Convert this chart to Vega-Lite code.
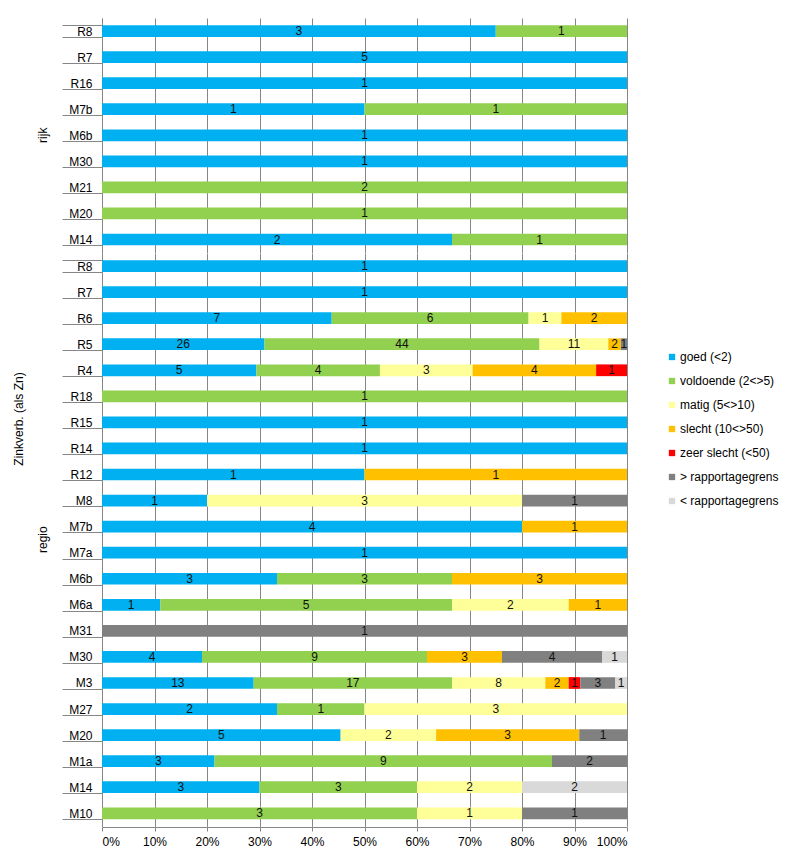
{
  "$schema": "https://vega.github.io/schema/vega-lite/v6.json",
  "background": "white",
  "autosize": {"type": "pad"},
  "padding": {"left": 12, "top": 12, "right": 0, "bottom": 10},
  "bounds": "flush",
  "data": {"values": [
    {"groep": "rijk", "locatie": "R8", "klasse": "goed (<2)", "aantal": 3},
    {"groep": "rijk", "locatie": "R8", "klasse": "voldoende (2<>5)", "aantal": 1},
    {"groep": "rijk", "locatie": "R7", "klasse": "goed (<2)", "aantal": 5},
    {"groep": "rijk", "locatie": "R16", "klasse": "goed (<2)", "aantal": 1},
    {"groep": "rijk", "locatie": "M7b", "klasse": "goed (<2)", "aantal": 1},
    {"groep": "rijk", "locatie": "M7b", "klasse": "voldoende (2<>5)", "aantal": 1},
    {"groep": "rijk", "locatie": "M6b", "klasse": "goed (<2)", "aantal": 1},
    {"groep": "rijk", "locatie": "M30", "klasse": "goed (<2)", "aantal": 1},
    {"groep": "rijk", "locatie": "M21", "klasse": "voldoende (2<>5)", "aantal": 2},
    {"groep": "rijk", "locatie": "M20", "klasse": "voldoende (2<>5)", "aantal": 1},
    {"groep": "rijk", "locatie": "M14", "klasse": "goed (<2)", "aantal": 2},
    {"groep": "rijk", "locatie": "M14", "klasse": "voldoende (2<>5)", "aantal": 1},
    {"groep": "regio", "locatie": "R8", "klasse": "goed (<2)", "aantal": 1},
    {"groep": "regio", "locatie": "R7", "klasse": "goed (<2)", "aantal": 1},
    {"groep": "regio", "locatie": "R6", "klasse": "goed (<2)", "aantal": 7},
    {"groep": "regio", "locatie": "R6", "klasse": "voldoende (2<>5)", "aantal": 6},
    {"groep": "regio", "locatie": "R6", "klasse": "matig (5<>10)", "aantal": 1},
    {"groep": "regio", "locatie": "R6", "klasse": "slecht (10<>50)", "aantal": 2},
    {"groep": "regio", "locatie": "R5", "klasse": "goed (<2)", "aantal": 26},
    {"groep": "regio", "locatie": "R5", "klasse": "voldoende (2<>5)", "aantal": 44},
    {"groep": "regio", "locatie": "R5", "klasse": "matig (5<>10)", "aantal": 11},
    {"groep": "regio", "locatie": "R5", "klasse": "slecht (10<>50)", "aantal": 2},
    {"groep": "regio", "locatie": "R5", "klasse": "> rapportagegrens", "aantal": 1},
    {"groep": "regio", "locatie": "R4", "klasse": "goed (<2)", "aantal": 5},
    {"groep": "regio", "locatie": "R4", "klasse": "voldoende (2<>5)", "aantal": 4},
    {"groep": "regio", "locatie": "R4", "klasse": "matig (5<>10)", "aantal": 3},
    {"groep": "regio", "locatie": "R4", "klasse": "slecht (10<>50)", "aantal": 4},
    {"groep": "regio", "locatie": "R4", "klasse": "zeer slecht (<50)", "aantal": 1},
    {"groep": "regio", "locatie": "R18", "klasse": "voldoende (2<>5)", "aantal": 1},
    {"groep": "regio", "locatie": "R15", "klasse": "goed (<2)", "aantal": 1},
    {"groep": "regio", "locatie": "R14", "klasse": "goed (<2)", "aantal": 1},
    {"groep": "regio", "locatie": "R12", "klasse": "goed (<2)", "aantal": 1},
    {"groep": "regio", "locatie": "R12", "klasse": "slecht (10<>50)", "aantal": 1},
    {"groep": "regio", "locatie": "M8", "klasse": "goed (<2)", "aantal": 1},
    {"groep": "regio", "locatie": "M8", "klasse": "matig (5<>10)", "aantal": 3},
    {"groep": "regio", "locatie": "M8", "klasse": "> rapportagegrens", "aantal": 1},
    {"groep": "regio", "locatie": "M7b", "klasse": "goed (<2)", "aantal": 4},
    {"groep": "regio", "locatie": "M7b", "klasse": "slecht (10<>50)", "aantal": 1},
    {"groep": "regio", "locatie": "M7a", "klasse": "goed (<2)", "aantal": 1},
    {"groep": "regio", "locatie": "M6b", "klasse": "goed (<2)", "aantal": 3},
    {"groep": "regio", "locatie": "M6b", "klasse": "voldoende (2<>5)", "aantal": 3},
    {"groep": "regio", "locatie": "M6b", "klasse": "slecht (10<>50)", "aantal": 3},
    {"groep": "regio", "locatie": "M6a", "klasse": "goed (<2)", "aantal": 1},
    {"groep": "regio", "locatie": "M6a", "klasse": "voldoende (2<>5)", "aantal": 5},
    {"groep": "regio", "locatie": "M6a", "klasse": "matig (5<>10)", "aantal": 2},
    {"groep": "regio", "locatie": "M6a", "klasse": "slecht (10<>50)", "aantal": 1},
    {"groep": "regio", "locatie": "M31", "klasse": "> rapportagegrens", "aantal": 1},
    {"groep": "regio", "locatie": "M30", "klasse": "goed (<2)", "aantal": 4},
    {"groep": "regio", "locatie": "M30", "klasse": "voldoende (2<>5)", "aantal": 9},
    {"groep": "regio", "locatie": "M30", "klasse": "slecht (10<>50)", "aantal": 3},
    {"groep": "regio", "locatie": "M30", "klasse": "> rapportagegrens", "aantal": 4},
    {"groep": "regio", "locatie": "M30", "klasse": "< rapportagegrens", "aantal": 1},
    {"groep": "regio", "locatie": "M3", "klasse": "goed (<2)", "aantal": 13},
    {"groep": "regio", "locatie": "M3", "klasse": "voldoende (2<>5)", "aantal": 17},
    {"groep": "regio", "locatie": "M3", "klasse": "matig (5<>10)", "aantal": 8},
    {"groep": "regio", "locatie": "M3", "klasse": "slecht (10<>50)", "aantal": 2},
    {"groep": "regio", "locatie": "M3", "klasse": "zeer slecht (<50)", "aantal": 1},
    {"groep": "regio", "locatie": "M3", "klasse": "> rapportagegrens", "aantal": 3},
    {"groep": "regio", "locatie": "M3", "klasse": "< rapportagegrens", "aantal": 1},
    {"groep": "regio", "locatie": "M27", "klasse": "goed (<2)", "aantal": 2},
    {"groep": "regio", "locatie": "M27", "klasse": "voldoende (2<>5)", "aantal": 1},
    {"groep": "regio", "locatie": "M27", "klasse": "matig (5<>10)", "aantal": 3},
    {"groep": "regio", "locatie": "M20", "klasse": "goed (<2)", "aantal": 5},
    {"groep": "regio", "locatie": "M20", "klasse": "matig (5<>10)", "aantal": 2},
    {"groep": "regio", "locatie": "M20", "klasse": "slecht (10<>50)", "aantal": 3},
    {"groep": "regio", "locatie": "M20", "klasse": "> rapportagegrens", "aantal": 1},
    {"groep": "regio", "locatie": "M1a", "klasse": "goed (<2)", "aantal": 3},
    {"groep": "regio", "locatie": "M1a", "klasse": "voldoende (2<>5)", "aantal": 9},
    {"groep": "regio", "locatie": "M1a", "klasse": "> rapportagegrens", "aantal": 2},
    {"groep": "regio", "locatie": "M14", "klasse": "goed (<2)", "aantal": 3},
    {"groep": "regio", "locatie": "M14", "klasse": "voldoende (2<>5)", "aantal": 3},
    {"groep": "regio", "locatie": "M14", "klasse": "matig (5<>10)", "aantal": 2},
    {"groep": "regio", "locatie": "M14", "klasse": "< rapportagegrens", "aantal": 2},
    {"groep": "regio", "locatie": "M10", "klasse": "voldoende (2<>5)", "aantal": 3},
    {"groep": "regio", "locatie": "M10", "klasse": "matig (5<>10)", "aantal": 1},
    {"groep": "regio", "locatie": "M10", "klasse": "> rapportagegrens", "aantal": 1}
  ]},
  "transform": [
    {"calculate": "indexof(['goed (<2)','voldoende (2<>5)','matig (5<>10)','slecht (10<>50)','zeer slecht (<50)','> rapportagegrens','< rapportagegrens'], datum.klasse)", "as": "volgorde"},
    {"stack": "aantal", "groupby": ["groep", "locatie"], "sort": [{"field": "volgorde", "order": "ascending"}], "offset": "normalize", "as": ["x0", "x1"]},
    {"calculate": "(datum.x0 + datum.x1) / 2", "as": "xm"}
  ],
  "facet": {
    "row": {
      "field": "groep", "type": "nominal", "sort": "descending",
      "title": "Zinkverb. (als Zn)",
      "header": {
        "labelAngle": -90, "labelOrient": "left", "labelFont": "Liberation Sans", "labelFontSize": 12, "labelColor": "black", "labelPadding": 47,
        "titleOrient": "left", "titleAngle": -90, "titleFont": "Liberation Sans", "titleFontSize": 12, "titleFontWeight": "normal", "titleColor": "black", "titlePadding": -11
      }
    }
  },
  "spacing": 0,
  "resolve": {"scale": {"y": "independent"}},
  "spec": {
    "width": 525,
    "height": {"step": 26.06},
    "encoding": {
      "y": {
        "field": "locatie", "type": "nominal", "sort": null,
        "scale": {"paddingInner": 0.55, "paddingOuter": 0.275},
        "axis": {
          "title": null, "tickBand": "extent", "tickSize": 40, "tickColor": "#868686", "domainColor": "#868686",
          "labelPadding": -30, "labelFont": "Liberation Sans", "labelFontSize": 12, "labelColor": "black", "grid": false
        }
      }
    },
    "layer": [
      {
        "mark": {"type": "bar"},
        "encoding": {
          "x": {
            "field": "x0", "type": "quantitative", "scale": {"domain": [0, 1], "nice": false},
            "axis": {
              "title": null, "format": ".0%", "values": [0, 0.1, 0.2, 0.3, 0.4, 0.5, 0.6, 0.7, 0.8, 0.9, 1],
              "grid": true, "gridColor": "#868686", "gridOpacity": 1, "domainColor": "#868686", "tickColor": "#868686", "tickSize": 4,
              "labelFont": "Liberation Sans", "labelFontSize": 12, "labelColor": "black", "labelPadding": 5
            }
          },
          "x2": {"field": "x1"},
          "color": {
            "field": "klasse", "type": "nominal",
            "scale": {
              "domain": ["goed (<2)", "voldoende (2<>5)", "matig (5<>10)", "slecht (10<>50)", "zeer slecht (<50)", "> rapportagegrens", "< rapportagegrens"],
              "range": ["#00B0F0", "#92D050", "#FFFF99", "#FFC000", "#FF0000", "#808080", "#D9D9D9"]
            },
            "legend": {
              "title": null, "orient": "none", "legendX": 564, "legendY": 333,
              "symbolType": "square", "symbolSize": 40, "symbolStrokeWidth": 0,
              "labelFont": "Liberation Sans", "labelFontSize": 12, "labelColor": "black", "labelOffset": 2, "rowPadding": 12
            }
          }
        }
      },
      {
        "mark": {"type": "text", "font": "Liberation Sans", "fontSize": 12, "color": "#111111", "baseline": "middle", "align": "center"},
        "encoding": {
          "x": {"field": "xm", "type": "quantitative"},
          "text": {"field": "aantal", "type": "quantitative"}
        }
      }
    ]
  },
  "config": {"view": {"stroke": null}}
}
